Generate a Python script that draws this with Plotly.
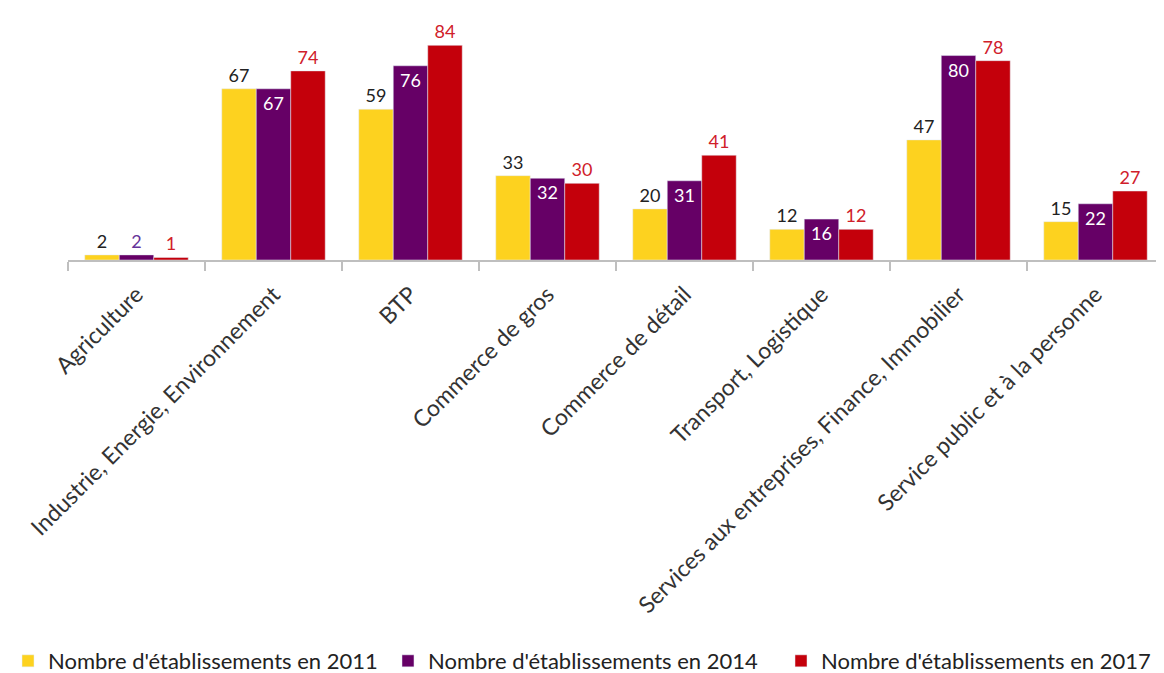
import plotly.graph_objects as go

categories = ["Agriculture", "Industrie, Energie, Environnement", "BTP", "Commerce de gros",
              "Commerce de détail", "Transport, Logistique",
              "Services aux entreprises, Finance, Immobilier", "Service public et à la personne"]
series_names = ["Nombre d'établissements en 2011", "Nombre d'établissements en 2014",
                "Nombre d'établissements en 2017"]
v2011 = [2, 67, 59, 33, 20, 12, 47, 15]
v2014 = [2, 67, 76, 32, 31, 16, 80, 22]
v2017 = [1, 74, 84, 30, 41, 12, 78, 27]

YELLOW = "#FDD21F"
PURPLE = "#660066"
RED = "#C4000B"
FONT = "Lato"

fig = go.Figure()
fig.add_trace(go.Bar(
    x=categories, y=v2011, name=series_names[0], marker_color=YELLOW,
    text=v2011, textposition="outside", cliponaxis=False, legend="legend",
    outsidetextfont=dict(color="#222222", size=18, family=FONT),
))
pos2014 = ["outside" if v < 5 else "inside" for v in v2014]
fig.add_trace(go.Bar(
    x=categories, y=v2014, name=series_names[1], marker_color=PURPLE,
    text=v2014, textposition=pos2014, insidetextanchor="end", constraintext="none",
    cliponaxis=False, legend="legend2",
    insidetextfont=dict(color="white", size=18, family=FONT),
    outsidetextfont=dict(color="#663399", size=18, family=FONT),
))
fig.add_trace(go.Bar(
    x=categories, y=v2017, name=series_names[2], marker_color=RED,
    text=v2017, textposition="outside", cliponaxis=False, legend="legend3",
    outsidetextfont=dict(color="#D0202A", size=18, family=FONT),
))

leg_common = dict(orientation="h", xref="container", xanchor="left",
                  yref="container", y=0.018, yanchor="middle",
                  font=dict(size=22, color="#222222", family=FONT),
                  bgcolor="rgba(0,0,0,0)")

fig.update_layout(
    width=1156, height=665,
    margin=dict(l=60, r=0, t=22, b=413, autoexpand=False),
    barmode="group", bargap=0.245, bargroupgap=0,
    plot_bgcolor="white", paper_bgcolor="white",
    font=dict(family=FONT, size=18, color="#333333"),
    showlegend=True,
    legend=dict(x=-0.009, **leg_common),
    legend2=dict(x=0.3287, **leg_common),
    legend3=dict(x=0.6687, **leg_common),
    xaxis=dict(
        automargin=False,
        tickangle=-45, showline=True, linecolor="#BFBFBF", linewidth=2,
        ticks="outside", tickson="boundaries", ticklen=9, tickcolor="#BFBFBF",
        tickwidth=2, ticklabelstandoff=10,
        tickfont=dict(size=23, color="#333333", family=FONT),
    ),
    yaxis=dict(range=[0, 90], visible=False, showgrid=False, automargin=False),
)

fig.write_html("out.html")
